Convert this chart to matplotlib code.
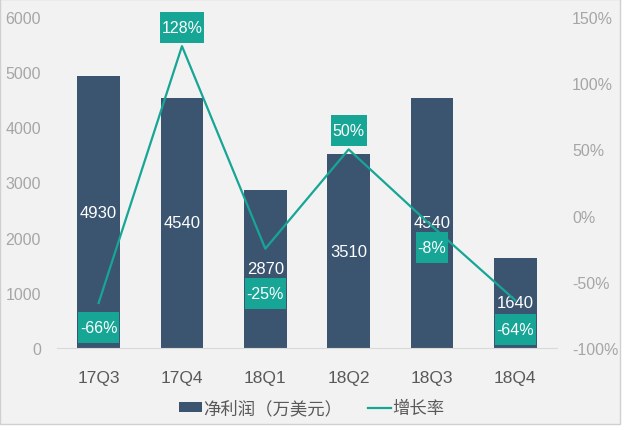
import matplotlib
matplotlib.use('Agg')
import matplotlib.pyplot as plt
from matplotlib.patches import Rectangle
from matplotlib.path import Path
from matplotlib.ticker import FuncFormatter

plt.rcParams['font.family'] = ['Liberation Sans', 'Noto Sans CJK SC', 'DejaVu Sans']

# data
quarters = ['17Q3', '17Q4', '18Q1', '18Q2', '18Q3', '18Q4']
net_profit = [4930, 4540, 2870, 3510, 4540, 1640]      # 万美元
growth = [-66, 128, -25, 50, -8, -64]                  # %

# label offsets (px, vertical) for the growth boxes
box_offsets = [-23, 20, -43, 20, -20, -28]

bar_color = '#3b5571'
line_color = '#17a596'
bg = '#f2f2f2'
tick_color = '#a6a6a6'
label_color = '#595959'


def tag_box(x0, y0, width, height, mutation_size):
    # narrow at the sides, tall top and bottom, like the excel data callouts
    px = 0.12 * mutation_size
    py = 0.5 * mutation_size
    x1, y1 = x0 + width + px, y0 + height + py
    x0, y0 = x0 - px, y0 - py
    return Path([(x0, y0), (x1, y0), (x1, y1), (x0, y1), (x0, y0)],
                [Path.MOVETO, Path.LINETO, Path.LINETO, Path.LINETO, Path.CLOSEPOLY])


fig = plt.figure(figsize=(6.24, 4.31), dpi=100, facecolor='white')
fig.patches.append(Rectangle((0, 0.014), 0.994, 0.986, transform=fig.transFigure,
                             facecolor=bg, edgecolor='#d0d0d0', lw=1, zorder=-10))

ax1 = fig.add_axes([0.0913, 0.1903, 0.8013, 0.7679])
ax1.set_facecolor('none')
x = list(range(len(quarters)))
bars = ax1.bar(x, net_profit, width=0.51, color=bar_color, label='净利润（万美元）', zorder=2)
ax1.set_xlim(-0.5, len(quarters) - 0.5)
ax1.set_ylim(0, 6000)
ax1.set_yticks(range(0, 6001, 1000))
ax1.set_xticks(x)
ax1.set_xticklabels(quarters, fontsize=12.5, color=label_color)
ax1.tick_params(axis='x', length=0, pad=16)
ax1.tick_params(axis='y', length=0, pad=11.5, labelsize=11.5, labelcolor=tick_color)
for s in ['top', 'right', 'left']:
    ax1.spines[s].set_visible(False)
ax1.spines['bottom'].set_color('#d9d9d9')

for xi, v in zip(x, net_profit):
    ax1.text(xi, v / 2, str(v), ha='center', va='center', color='white', fontsize=12, zorder=5)

ax2 = ax1.twinx()
ax2.set_ylim(-100, 150)
ax2.set_yticks(range(-100, 151, 50))
ax2.yaxis.set_major_formatter(FuncFormatter(lambda v, p: '%d%%' % v))
ax2.tick_params(axis='y', length=0, pad=10.8, labelsize=11.5, labelcolor=tick_color)
for s in ['top', 'right', 'left', 'bottom']:
    ax2.spines[s].set_visible(False)
line, = ax2.plot(x, growth, color=line_color, lw=1.6, label='增长率', zorder=3)

for xi, g, off in zip(x, growth, box_offsets):
    ax2.annotate('%d%%' % g, (xi, g), xytext=(0, off * 0.72), textcoords='offset points',
                 ha='center', va='center_baseline', color='white', fontsize=11.5,
                 bbox=dict(boxstyle=tag_box, fc=line_color, ec='none'), zorder=6)

fig.legend([bars, line], ['净利润（万美元）', '增长率'], loc='center',
           bbox_to_anchor=(0.5, 0.051), ncol=2, frameon=False, fontsize=12.5,
           labelcolor=label_color, handlelength=1.3, handleheight=0.5,
           handletextpad=0.1, columnspacing=1.5)

fig.savefig('out.png', dpi=100, facecolor=fig.get_facecolor())
